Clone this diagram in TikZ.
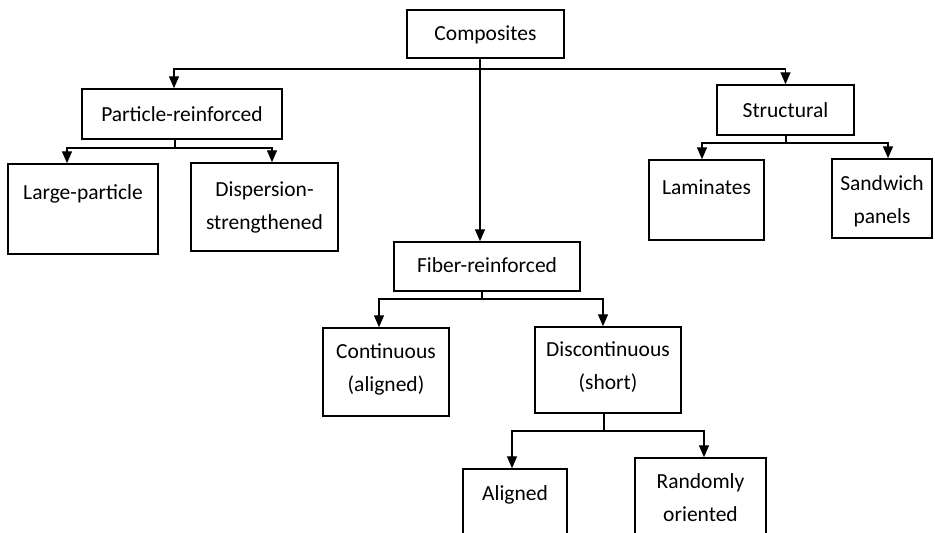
\documentclass[tikz,border=0pt]{standalone}
\usepackage{fontspec}
\setmainfont{Carlito}
\usetikzlibrary{arrows.meta}
\tikzset{
  box/.style={draw, line width=1.5pt, inner sep=0pt, fill=white},
  txt/.style={anchor=north, inner sep=0pt, align=center,
    font=\fontsize{21.5}{33.5}\selectfont, execute at begin node=\rule{0pt}{16pt}},
  conn/.style={line width=1.4pt, line join=miter},
  arr/.style={conn, -{Triangle[length=12pt,width=10pt]}},
}
\begin{document}
\begin{tikzpicture}[x=1pt,y=-1pt]
\useasboundingbox (0,0) rectangle (935,533);
\clip (0,0) rectangle (935,533);
\fill[white] (0,0) rectangle (935,533);
% boxes
\node[box, minimum width=157, minimum height=48] (comp) at (485.5,34) {};
\node[box, minimum width=200, minimum height=50] (part) at (182,114) {};
\node[box, minimum width=150, minimum height=90] (lp) at (83,209) {};
\node[box, minimum width=147, minimum height=88] (ds) at (264.5,207) {};
\node[box, minimum width=137, minimum height=50] (struc) at (785.5,110) {};
\node[box, minimum width=115, minimum height=80] (lam) at (706.5,200) {};
\node[box, minimum width=100, minimum height=79] (sand) at (882,198.5) {};
\node[box, minimum width=186, minimum height=49] (fib) at (487,266.5) {};
\node[box, minimum width=126, minimum height=88] (cont) at (386,372) {};
\node[box, minimum width=146, minimum height=86] (disc) at (608,370) {};
\node[box, minimum width=104, minimum height=91] (al) at (515,514.5) {};
\node[box, minimum width=131, minimum height=102] (rnd) at (700.5,509) {};
% texts
\node[txt] (tcomp) at ([yshift=-15pt]comp.north) {Composites};
\node[txt] (tpart) at ([yshift=-17pt]part.north) {Particle-reinforced};
\node[txt] (tlp) at ([yshift=-20pt]lp.north) {Large-particle};
\node[txt] (tds) at ([yshift=-19pt]ds.north) {Dispersion-\\strengthened};
\node[txt] (tstruc) at ([yshift=-17pt]struc.north) {Structural};
\node[txt] (tlam) at ([yshift=-19pt]lam.north) {Laminates};
\node[txt] (tsand) at ([yshift=-17pt]sand.north) {Sandwich\\panels};
\node[txt] (tfib) at ([yshift=-15pt]fib.north) {Fiber-reinforced};
\node[txt] (tcont) at ([yshift=-16pt]cont.north) {Continuous\\(aligned)};
\node[txt] (tdisc) at ([yshift=-15pt]disc.north) {Discontinuous\\(short)};
\node[txt] (tal) at ([yshift=-16pt]al.north) {Aligned};
\node[txt] (trnd) at ([yshift=-16pt]rnd.north) {Randomly\\oriented};
% junctions
\coordinate (j0) at (480,69);
\coordinate (j1) at (175,148);
\coordinate (j2) at (786,143);
\coordinate (j3) at (482,299);
\coordinate (j4) at (604,431);
% connectors
\draw[arr] (comp.south -| j0) -- (fib.north -| j0);
\draw[arr] (j0) -| ([xshift=-8pt]part.north);
\draw[arr] (j0) -| (struc.north);
\draw[conn] (part.south -| j1) -- (j1);
\draw[arr] (j1) -| ([xshift=-16pt]lp.north);
\draw[arr] (j1) -| ([xshift=7.5pt]ds.north);
\draw[conn] (struc.south -| j2) -- (j2);
\draw[arr] (j2) -| ([xshift=-4.5pt]lam.north);
\draw[arr] (j2) -| ([xshift=6pt]sand.north);
\draw[conn] (fib.south -| j3) -- (j3);
\draw[arr] (j3) -| ([xshift=-7pt]cont.north);
\draw[arr] (j3) -| ([xshift=-5pt]disc.north);
\draw[conn] (disc.south -| j4) -- (j4);
\draw[arr] (j4) -| ([xshift=-3pt]al.north);
\draw[arr] (j4) -| ([xshift=3.5pt]rnd.north);
\end{tikzpicture}
\end{document}
